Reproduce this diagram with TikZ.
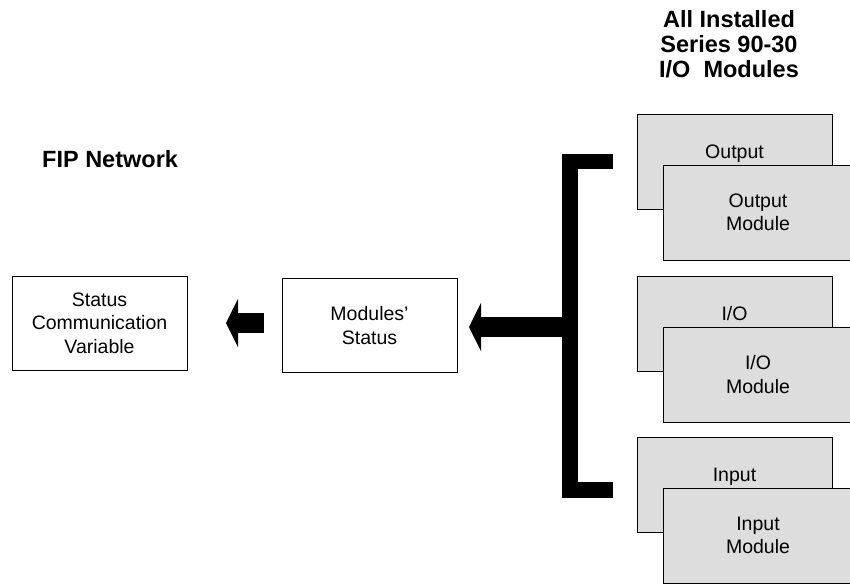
\documentclass[tikz,border=0pt]{standalone}
\usepackage{fontspec}
\setmainfont{Liberation Sans}
\usetikzlibrary{arrows.meta}
\definecolor{modgray}{HTML}{DDDDDD}
\begin{document}
\begin{tikzpicture}[x=1pt,y=-1pt,
  txt/.style={font=\fontsize{19.5}{23.5}\selectfont, align=center},
  plainbox/.style={txt, draw=black, line width=0.9pt, minimum width=175pt, minimum height=94pt, inner sep=0pt},
  backmod/.style={txt, draw=black, line width=0.9pt, fill=modgray, minimum width=195pt,
                  inner xsep=0pt, inner ysep=0pt, text height=44pt, text depth=51pt},
  frontmod/.style={txt, draw=black, line width=0.9pt, fill=modgray, minimum width=190pt,
                   minimum height=95pt, inner sep=0pt},
  fatarrow/.style={line width=20pt, -{Triangle[length=12pt,width=48pt]}},
  title/.style={font=\fontsize{23.5}{25}\selectfont\bfseries, align=center, inner sep=0pt}
]
\useasboundingbox (0,0) rectangle (850,584);

% headings
\node[title, anchor=north] (heading) at (729,10) {All Installed\\Series 90-30\\I/O~~Modules};
\node[title, anchor=base west] (net) at (42,167) {FIP Network};

% status boxes
\node[plainbox] (scv) at (99.5,323) {Status\\Communication\\Variable};
\node[plainbox] (mst) at (369.5,325.5) {Modules’\\Status};

% stacked I/O modules
\node[backmod] (outback) at (734.5,161.5) {Output};
\node[frontmod] (outmod) at (758,212.5) {Output\\Module};
\node[backmod] (ioback) at (734.5,323.5) {I/O};
\node[frontmod] (iomod) at (758,374.5) {I/O\\Module};
\node[backmod] (inback) at (734.5,484.5) {Input};
\node[frontmod] (inmod) at (758,535.5) {Input\\Module};

% backplane bus
\coordinate (busA) at (613,161.5);
\coordinate (busB) at (570,161.5);
\coordinate (busC) at (570,490);
\coordinate (busD) at (613,490);
\draw[line width=15.5pt, miter limit=10] (busA) -- (busB) -- (busC) -- (busD);

% data flow arrows
\coordinate (a2tail) at (570,327);
\coordinate (a2tip) at (469,327);
\draw[fatarrow] (a2tail) -- (a2tip);
\coordinate (a1tail) at (264,323);
\coordinate (a1tip) at (226,323);
\draw[fatarrow] (a1tail) -- (a1tip);
\end{tikzpicture}
\end{document}
